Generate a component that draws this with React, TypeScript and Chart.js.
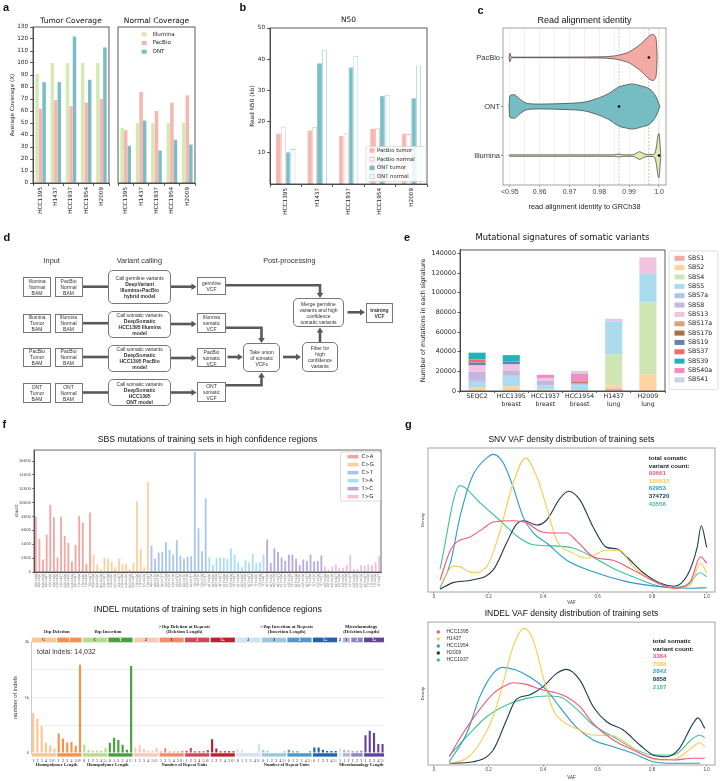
import React, { useEffect, useRef } from "react";
import { Chart, registerables } from "chart.js";

Chart.register(...registerables);

const SANS = "'DejaVu Sans', sans-serif";
const ARIAL = "'Liberation Sans', Arial, Helvetica, sans-serif";
const SERIF = "'Liberation Serif', 'DejaVu Serif', serif";

// ---------------- a: coverage ----------------
const samples = ["HCC1395", "H1437", "HCC1937", "HCC1954", "H2009"];
const tumorIllumina = [91, 100, 100, 100, 100];
const tumorPacBio = [62, 69, 64, 67, 70];
const tumorONT = [84, 84, 122, 86, 113];
const normalIllumina = [46, 50, 50, 50, 50];
const normalPacBio = [44, 76, 60, 67, 73];
const normalONT = [31, 52, 27, 36, 32];

// ---------------- b: N50 ----------------
const pacbioTumorN50 = [16.2, 17.2, 15.4, 17.6, 16.2];
const pacbioNormalN50 = [18.2, 18.3, 16.3, 17.9, 16.0];
const ontTumorN50 = [10.2, 38.7, 37.4, 28.3, 27.5];
const ontNormalN50 = [11.2, 42.9, 41.1, 28.6, 38.0];
const n50Ticks = [10, 20, 30, 40, 50];

// ---------------- c: read identity violins ----------------
const violinCats = ["Illumina", "ONT", "PacBio"];
const pacbioViolinX = [0.9497, 0.95, 0.9503, 0.9507, 0.96, 0.97, 0.98, 0.985, 0.988, 0.99, 0.992, 0.994, 0.995, 0.996, 0.997, 0.998, 0.9986, 0.9991, 0.9994];
const pacbioViolinW = [0, 0.09, 0.04, 0.006, 0.006, 0.008, 0.012, 0.03, 0.07, 0.11, 0.19, 0.28, 0.34, 0.4, 0.45, 0.47, 0.44, 0.34, 0];
const ontViolinX = [0.9497, 0.95, 0.9515, 0.953, 0.955, 0.957, 0.96, 0.965, 0.97, 0.975, 0.98, 0.983, 0.9866, 0.989, 0.991, 0.994, 0.997, 0.999, 0.9998, 1.0003];
const ontViolinW = [0, 0.22, 0.24, 0.17, 0.08, 0.055, 0.05, 0.055, 0.065, 0.09, 0.18, 0.26, 0.4, 0.44, 0.46, 0.42, 0.35, 0.2, 0.08, 0];
const illuminaViolinX = [0.9497, 0.95, 0.96, 0.97, 0.98, 0.985, 0.9866, 0.988, 0.991, 0.9925, 0.9935, 0.9945, 0.996, 0.998, 0.9988, 0.9993, 0.9997, 1.0, 1.0006];
const illuminaViolinW = [0, 0.015, 0.015, 0.015, 0.015, 0.015, 0.03, 0.015, 0.015, 0.05, 0.08, 0.05, 0.02, 0.02, 0.08, 0.25, 0.42, 0.45, 0];
const meanIdentity = [1.0, 0.9866, 0.9966]; // Illumina, ONT, PacBio
const identityTicks = [0.95, 0.955, 0.96, 0.965, 0.97, 0.975, 0.98, 0.985, 0.99, 0.995, 1.0];
const identityTickLabels = ["<0.95", "", "0.96", "", "0.97", "", "0.98", "", "0.99", "", "1.0"];

// ---------------- e: mutational signatures ----------------
const sigSamples = [["SEQC2"], ["HCC1395", "breast"], ["HCC1937", "breast"], ["HCC1954", "breast"], ["H1437", "lung"], ["H2009", "lung"]];
const signatureNames = ["SBS1", "SBS2", "SBS4", "SBS5", "SBS7a", "SBS8", "SBS13", "SBS17a", "SBS17b", "SBS19", "SBS37", "SBS39", "SBS40a", "SBS41"];
const sbs1 = [0, 0, 500, 0, 2500, 0];
const sbs2 = [4000, 5000, 1500, 1000, 3000, 17000];
const sbs4 = [0, 0, 0, 0, 32000, 73000];
const sbs5 = [4500, 9500, 4000, 5000, 33500, 29500];
const sbs7a = [2000, 1000, 0, 1000, 0, 0];
const sbs8 = [9000, 5500, 4500, 0, 0, 0];
const sbs13 = [6500, 6000, 2500, 0, 2500, 16500];
const sbs17a = [0, 0, 0, 1000, 0, 0];
const sbs17b = [0, 0, 0, 1000, 0, 0];
const sbs19 = [3000, 3000, 0, 0, 0, 0];
const sbs37 = [3000, 0, 0, 0, 0, 0];
const sbs39 = [7000, 6500, 0, 0, 0, 0];
const sbs40a = [0, 0, 3500, 8500, 0, 0];
const sbs41 = [0, 0, 0, 3000, 0, 0];
const signatureColors = ["#f5a9a6", "#fdd3a0", "#cfe6b3", "#aadcee", "#a9c5ea", "#c4b6e0", "#f2c3e0", "#d9a27c", "#a5713e", "#6c81aa", "#f26b6b", "#1fb3be", "#f18dbf", "#cdd4df"];
const sigTicks = [0, 20000, 40000, 60000, 80000, 100000, 120000, 140000];

// ---------------- f: SBS96 ----------------
const sbsTypes = ["C>A", "C>G", "C>T", "T>A", "T>C", "T>G"];
const bases = ["A", "C", "G", "T"];
const sbsLabels = sbsTypes.flatMap((t) => bases.flatMap((a) => bases.map((b) => `${a}[${t}]${b}`)));
const sbsCA = [8000, 4800, 1800, 5400, 9700, 7900, 2100, 8000, 5200, 4200, 1500, 3900, 8100, 7100, 1200, 8600];
const sbsCG = [2500, 1100, 400, 2100, 1900, 1400, 700, 2000, 1200, 1200, 400, 1300, 10200, 3300, 700, 13000];
const sbsCT = [3800, 1900, 2800, 2900, 4300, 3200, 2500, 4600, 2300, 1900, 2200, 2300, 17300, 6300, 3000, 10600];
const sbsTA = [2100, 1000, 2000, 2100, 2100, 1900, 3400, 2500, 1400, 700, 1700, 1400, 2600, 1300, 1400, 2500];
const sbsTC = [4700, 1300, 3400, 2900, 2100, 1600, 2500, 2500, 1900, 1000, 1800, 1600, 2500, 1500, 1600, 2400];
const sbsTG = [800, 350, 800, 1100, 600, 600, 1000, 2400, 450, 450, 1000, 900, 1100, 1000, 1400, 2300];
const sbsColors = ["#f5a3a3", "#fdcf9c", "#a8c5ec", "#a9dff0", "#b5aadb", "#f3bddb"];
const sbsTicks = [0, 2000, 4000, 6000, 8000, 10000, 12000, 14000, 16000];

// ---------------- f: ID83 ----------------
const indelDelC = [720, 620, 480, 185, 140, 80];
const indelDelT = [350, 260, 190, 200, 130, 1590];
const indelInsC = [150, 55, 40, 40, 40, 95];
const indelInsT = [185, 275, 235, 150, 60, 1570];
const indelDel2 = [100, 145, 70, 40, 40, 90];
const indelDel3 = [25, 85, 25, 25, 25, 40];
const indelDel4 = [40, 90, 30, 30, 30, 55];
const indelDel5 = [250, 80, 30, 30, 30, 30];
const indelIns2 = [70, 65, 10, 10, 10, 165];
const indelIns3 = [55, 40, 10, 10, 10, 30];
const indelIns4 = [60, 30, 30, 10, 10, 30];
const indelIns5 = [100, 100, 60, 35, 35, 35];
const indelMH = [90, 60, 50, 30, 30, 40, 320, 400, 360, 160, 160];
const lenLabels1 = ["1", "2", "3", "4", "5", "6+"];
const lenLabels0 = ["0", "1", "2", "3", "4", "5+"];
const mhLabels = ["1", "1", "2", "1", "2", "3", "1", "2", "3", "4", "5+"];
const indelGroups = [
  { label: "C", n: 6, color: "#fcc594", dark: false, values: indelDelC, ticks: lenLabels1 },
  { label: "T", n: 6, color: "#f8904a", dark: true, values: indelDelT, ticks: lenLabels1 },
  { label: "C", n: 6, color: "#b3dd8d", dark: false, values: indelInsC, ticks: lenLabels0 },
  { label: "T", n: 6, color: "#46a03c", dark: true, values: indelInsT, ticks: lenLabels0 },
  { label: "2", n: 6, color: "#fbc9b5", dark: false, values: indelDel2, ticks: lenLabels1 },
  { label: "3", n: 6, color: "#f58a6b", dark: false, values: indelDel3, ticks: lenLabels1 },
  { label: "4", n: 6, color: "#d2455a", dark: true, values: indelDel4, ticks: lenLabels1 },
  { label: "5+", n: 6, color: "#bf1f2b", dark: true, values: indelDel5, ticks: lenLabels1 },
  { label: "2", n: 6, color: "#d3e3f3", dark: false, values: indelIns2, ticks: lenLabels0 },
  { label: "3", n: 6, color: "#9bc7e1", dark: false, values: indelIns3, ticks: lenLabels0 },
  { label: "4", n: 6, color: "#4d99ca", dark: true, values: indelIns4, ticks: lenLabels0 },
  { label: "5+", n: 6, color: "#1e63ac", dark: true, values: indelIns5, ticks: lenLabels0 },
  { label: "2", n: 1, color: "#e1e1ef", dark: false, values: indelMH.slice(0, 1), ticks: mhLabels.slice(0, 1) },
  { label: "3", n: 2, color: "#b6b5d8", dark: false, values: indelMH.slice(1, 3), ticks: mhLabels.slice(1, 3) },
  { label: "4", n: 3, color: "#8a86bf", dark: true, values: indelMH.slice(3, 6), ticks: mhLabels.slice(3, 6) },
  { label: "5+", n: 5, color: "#6441a0", dark: true, values: indelMH.slice(6), ticks: mhLabels.slice(6) },
];
const indelSuper = [
  { top: ["1bp Deletion"], from: 0, n: 12, bottom: "Homopolymer Length" },
  { top: ["1bp Insertion"], from: 12, n: 12, bottom: "Homopolymer Length" },
  { top: [">1bp Deletion at Repeats", "(Deletion Length)"], from: 24, n: 24, bottom: "Number of Repeat Units" },
  { top: [">1bp Insertion at Repeats", "(Insertion Length)"], from: 48, n: 24, bottom: "Number of Repeat Units" },
  { top: ["Microhomology", "(Deletion Length)"], from: 72, n: 11, bottom: "Microhomology Length" },
];

// ---------------- g: VAF densities ----------------
const vafSamples = ["HCC1395", "H1437", "HCC1954", "H2009", "HCC1937"];
const vafColors = ["#f4567a", "#fdc94b", "#2a9bd3", "#1c3a4e", "#3cc392"];
const snvCounts = ["93661", "184515", "62953", "374720", "43558"];
const indelCounts = ["3384", "7088", "2842", "8858", "2187"];
const snvHCC1395 = [[0.022, 0.083], [0.06, 0.29], [0.085, 0.35], [0.13, 0.38], [0.18, 0.44], [0.217, 0.486], [0.29, 0.495], [0.34, 0.48], [0.39, 0.42], [0.425, 0.41], [0.487, 0.41], [0.52, 0.36], [0.584, 0.245], [0.656, 0.22], [0.73, 0.153], [0.81, 0.072], [0.88, 0.026], [0.94, 0.072], [0.977, 0.245], [1.0, 0.2]];
const snvH1437 = [[0.022, 0.037], [0.07, 0.18], [0.095, 0.176], [0.14, 0.134], [0.193, 0.176], [0.24, 0.41], [0.29, 0.755], [0.336, 0.93], [0.377, 0.8], [0.413, 0.59], [0.45, 0.36], [0.51, 0.27], [0.56, 0.234], [0.63, 0.29], [0.68, 0.29], [0.73, 0.176], [0.81, 0.072], [0.88, 0.026], [0.94, 0.05], [0.977, 0.2], [1.0, 0.134]];
const snvHCC1954 = [[0.022, 0.026], [0.06, 0.2], [0.095, 0.52], [0.14, 0.8], [0.193, 0.93], [0.217, 0.956], [0.253, 0.9], [0.29, 0.73], [0.327, 0.52], [0.364, 0.41], [0.413, 0.34], [0.487, 0.22], [0.584, 0.14], [0.706, 0.072], [0.83, 0.037], [0.95, 0.026], [1.0, 0.03]];
const snvH2009 = [[0.022, 0.019], [0.07, 0.065], [0.14, 0.083], [0.217, 0.153], [0.266, 0.34], [0.3, 0.465], [0.33, 0.495], [0.377, 0.465], [0.413, 0.5], [0.462, 0.65], [0.493, 0.7], [0.535, 0.64], [0.584, 0.45], [0.633, 0.31], [0.67, 0.3], [0.706, 0.245], [0.77, 0.13], [0.83, 0.06], [0.88, 0.04], [0.93, 0.12], [0.965, 0.31], [0.98, 0.46], [1.0, 0.31]];
const snvHCC1937 = [[0.022, 0.16], [0.095, 0.74], [0.168, 0.62], [0.24, 0.5], [0.31, 0.38], [0.36, 0.33], [0.437, 0.32], [0.51, 0.305], [0.58, 0.245], [0.656, 0.165], [0.73, 0.106], [0.81, 0.049], [0.86, 0.03], [0.93, 0.05], [0.975, 0.134], [1.0, 0.106]];
const indelHCC1395 = [[0.056, 0.058], [0.095, 0.187], [0.156, 0.36], [0.217, 0.5], [0.266, 0.56], [0.29, 0.576], [0.34, 0.564], [0.39, 0.53], [0.437, 0.51], [0.486, 0.478], [0.535, 0.408], [0.584, 0.29], [0.657, 0.175], [0.73, 0.105], [0.803, 0.047], [0.877, 0.035], [0.95, 0.047], [0.993, 0.047]];
const indelH1437 = [[0.056, 0.012], [0.12, 0.047], [0.168, 0.152], [0.217, 0.338], [0.253, 0.571], [0.29, 0.828], [0.33, 0.956], [0.364, 0.874], [0.4, 0.618], [0.437, 0.385], [0.473, 0.303], [0.52, 0.257], [0.584, 0.21], [0.657, 0.205], [0.706, 0.152], [0.767, 0.07], [0.828, 0.035], [0.89, 0.047], [0.95, 0.128], [0.975, 0.156], [0.993, 0.128]];
const indelHCC1954 = [[0.056, 0.023], [0.12, 0.222], [0.168, 0.478], [0.217, 0.641], [0.253, 0.683], [0.3, 0.665], [0.35, 0.618], [0.413, 0.524], [0.46, 0.408], [0.52, 0.268], [0.584, 0.175], [0.657, 0.128], [0.73, 0.082], [0.803, 0.023], [0.89, 0.012], [0.975, 0.012]];
const indelH2009 = [[0.056, 0.012], [0.144, 0.023], [0.217, 0.105], [0.266, 0.315], [0.3, 0.455], [0.35, 0.49], [0.4, 0.548], [0.45, 0.641], [0.486, 0.669], [0.535, 0.594], [0.584, 0.408], [0.633, 0.303], [0.694, 0.245], [0.755, 0.14], [0.803, 0.07], [0.852, 0.058], [0.9, 0.117], [0.95, 0.291], [0.968, 0.33], [0.993, 0.256]];
const indelHCC1937 = [[0.056, 0.065], [0.12, 0.198], [0.193, 0.338], [0.266, 0.42], [0.34, 0.466], [0.413, 0.483], [0.46, 0.478], [0.52, 0.396], [0.584, 0.28], [0.657, 0.198], [0.73, 0.117], [0.803, 0.07], [0.877, 0.07], [0.95, 0.187], [0.975, 0.21], [0.993, 0.19]];
const vafTicks = [0, 0.2, 0.4, 0.6, 0.8, 1.0];

// ---------------- colours ----------------
const ILL = "#d6e9b4";
const PBC = "#f6b5ae";
const ONTC = "#79bec6";

// ---------------- helpers ----------------
const pts = (list: number[][]) => list.map(([x, y]) => ({ x, y }));

function ttl(text: string, size: number, pt: number, pb: number, family = SANS) {
  return { display: true, text, color: "#111", font: { family, size, weight: "normal" }, padding: { top: pt, bottom: pb }, fullSize: false };
}

function mkOpts(pad: any, title: any, scales: any, extra: any = {}) {
  return {
    responsive: true,
    maintainAspectRatio: false,
    animation: false,
    events: [],
    layout: { padding: pad, autoPadding: false },
    plugins: { legend: { display: false }, tooltip: { enabled: false }, title },
    scales,
    ...extra,
  };
}

const tickGrid = { display: true, drawOnChartArea: false, drawTicks: true, tickLength: 3, color: "#333", lineWidth: 0.8 };
const axBorder = { display: true, color: "#333", width: 0.8 };

function framePlugin(color: string, width = 0.8) {
  return {
    id: "frame",
    afterDraw(chart: any) {
      const { ctx, chartArea: a } = chart;
      ctx.save();
      ctx.strokeStyle = color;
      ctx.lineWidth = width;
      ctx.strokeRect(a.left, a.top, a.right - a.left, a.bottom - a.top);
      ctx.restore();
    },
  };
}

function legendPlugin(ox: number, oy: number, spec: any) {
  return {
    id: "boxLegend",
    afterDraw(chart: any) {
      const ctx = chart.ctx;
      ctx.save();
      if (spec.frame) {
        const [x, y, w, h] = spec.frame;
        ctx.fillStyle = "rgba(255,255,255,0.85)";
        ctx.strokeStyle = spec.frameColor || "#d2d2d2";
        ctx.lineWidth = 0.7;
        ctx.beginPath();
        if (ctx.roundRect) ctx.roundRect(x - ox, y - oy, w, h, 1.5);
        else ctx.rect(x - ox, y - oy, w, h);
        ctx.fill();
        ctx.stroke();
      }
      ctx.font = `${spec.size}px ${spec.family}`;
      ctx.textBaseline = "middle";
      ctx.textAlign = "left";
      spec.items.forEach((it: any, i: number) => {
        const y = spec.y0 + i * spec.dy - oy;
        if (it.circle) {
          ctx.beginPath();
          ctx.arc(spec.sx - ox, y, spec.sh / 2, 0, Math.PI * 2);
          ctx.fillStyle = it.fill;
          ctx.fill();
        } else {
          ctx.fillStyle = it.fill;
          ctx.fillRect(spec.sx - ox, y - spec.sh / 2, spec.sw, spec.sh);
          if (it.stroke) {
            ctx.strokeStyle = it.stroke;
            ctx.lineWidth = 0.8;
            ctx.strokeRect(spec.sx - ox + 0.4, y - spec.sh / 2 + 0.4, spec.sw - 0.8, spec.sh - 0.8);
          }
        }
        ctx.fillStyle = spec.color || "#222";
        ctx.fillText(it.label, spec.tx - ox, y);
      });
      ctx.restore();
    },
  };
}

function ChartBox({ x, y, w, h, make }: { x: number; y: number; w: number; h: number; make: () => any }) {
  const ref = useRef<HTMLCanvasElement>(null);
  useEffect(() => {
    const c = new Chart(ref.current as HTMLCanvasElement, make());
    return () => c.destroy();
  }, []);
  return (
    <div style={{ position: "absolute", left: x, top: y, width: w, height: h }}>
      <canvas ref={ref} />
    </div>
  );
}

function Label({ x, y, size, children, bold, color = "#111", align = "left", family = ARIAL }: any) {
  const tx = align === "center" ? "translateX(-50%)" : align === "right" ? "translateX(-100%)" : "none";
  return (
    <div style={{ position: "absolute", left: x, top: y - size * 0.6, fontSize: size, lineHeight: `${size * 1.2}px`, fontWeight: bold ? 700 : 400, color, fontFamily: family, whiteSpace: "nowrap", transform: tx }}>
      {children}
    </div>
  );
}

// ---------------- chart configs ----------------
function coverageConfig(kind: "tumor" | "normal") {
  const tumor = kind === "tumor";
  const ox = tumor ? 0 : 112;
  const oy = 10;
  const tickFont = { family: SANS, size: 5.7 };
  const ds = (label: string, data: number[], color: string) => ({ label, data, backgroundColor: color, categoryPercentage: 0.69, barPercentage: 1 });
  const plugins: any[] = [framePlugin("#333")];
  if (!tumor)
    plugins.push(
      legendPlugin(ox, oy, {
        items: [{ label: "Illumina", fill: ILL }, { label: "PacBio", fill: PBC }, { label: "ONT", fill: ONTC }],
        sx: 141.7, sw: 5, sh: 4, tx: 152.5, y0: 34.3, dy: 8.7, size: 5.6, family: SANS,
      })
    );
  const yScale: any = tumor
    ? {
        min: 0, max: 130,
        ticks: { stepSize: 10, font: tickFont, color: "#222", padding: 2 },
        grid: tickGrid, border: axBorder,
        title: { display: true, text: "Average Coverage (X)", font: { family: SANS, size: 5.7 }, color: "#222", padding: { top: 9.3, bottom: 0 } },
        afterFit: (s: any) => { s.width = 33; },
      }
    : { display: false, min: 0, max: 130 };
  return {
    type: "bar",
    data: {
      labels: samples,
      datasets: tumor
        ? [ds("Illumina", tumorIllumina, ILL), ds("PacBio", tumorPacBio, PBC), ds("ONT", tumorONT, ONTC)]
        : [ds("Illumina", normalIllumina, ILL), ds("PacBio", normalPacBio, PBC), ds("ONT", normalONT, ONTC)],
    },
    options: mkOpts(
      tumor ? { left: 0, right: 3, top: 0, bottom: 0 } : { left: 6, right: 5, top: 0, bottom: 0 },
      ttl(tumor ? "Tumor Coverage" : "Normal Coverage", 7.5, 6.5, 1.5),
      {
        x: {
          grid: tickGrid, border: axBorder,
          ticks: { font: tickFont, color: "#222", minRotation: 90, maxRotation: 90, padding: 1, autoSkip: false },
          afterFit: (s: any) => { s.height = 52; },
        },
        y: yScale,
      }
    ),
    plugins,
  };
}

function n50Config() {
  const ox = 240, oy = 10;
  const tickFont = { family: SANS, size: 5.7 };
  const ds = (label: string, data: number[], fill: string, border: string) => ({ label, data, backgroundColor: fill, borderColor: border, borderWidth: 0.9, categoryPercentage: 0.62, barPercentage: 1 });
  return {
    type: "bar",
    data: {
      labels: samples,
      datasets: [
        ds("PacBio tumor", pacbioTumorN50, PBC, PBC),
        ds("PacBio normal", pacbioNormalN50, "#ffffff", PBC),
        ds("ONT tumor", ontTumorN50, ONTC, ONTC),
        ds("ONT normal", ontNormalN50, "#ffffff", "#9fd5dc"),
      ],
    },
    options: mkOpts({ left: 0, right: 3, top: 0, bottom: 0 }, ttl("N50", 7.5, 5.5, 3.5), {
      x: {
        grid: tickGrid, border: axBorder,
        ticks: { font: tickFont, color: "#222", minRotation: 90, maxRotation: 90, padding: 1, autoSkip: false },
        afterFit: (s: any) => { s.height = 51; },
      },
      y: {
        min: 0, max: 50,
        afterBuildTicks: (s: any) => { s.ticks = n50Ticks.map((v) => ({ value: v })); },
        ticks: { font: tickFont, color: "#222", padding: 2 },
        grid: tickGrid, border: axBorder,
        title: { display: true, text: "Read N50 (kb)", font: { family: SANS, size: 5.8 }, color: "#222", padding: { top: 9.5, bottom: 0 } },
        afterFit: (s: any) => { s.width = 30; },
      },
    }),
    plugins: [
      framePlugin("#333"),
      legendPlugin(ox, oy, {
        frame: [366, 146.5, 60, 35],
        items: [
          { label: "PacBio tumor", fill: PBC },
          { label: "PacBio normal", fill: "#fff", stroke: PBC },
          { label: "ONT tumor", fill: ONTC },
          { label: "ONT normal", fill: "#fff", stroke: "#9fd5dc" },
        ],
        sx: 369.5, sw: 5, sh: 4.5, tx: 377, y0: 150.5, dy: 8.7, size: 5.3, family: SANS,
      }),
    ],
  };
}

function violinDatasets(center: number, xs: number[], ws: number[], color: string) {
  const common = { borderColor: "#3a3a3a", borderWidth: 0.7, pointRadius: 0, cubicInterpolationMode: "monotone", backgroundColor: color };
  return [
    { ...common, data: xs.map((x, i) => ({ x, y: center + ws[i] })), fill: false },
    { ...common, data: xs.map((x, i) => ({ x, y: center - ws[i] })), fill: "-1" },
  ];
}

function identityConfig() {
  const vline = (x: number, color: string) => ({ data: [{ x, y: -0.6 }, { x, y: 2.6 }], borderColor: color, borderWidth: 0.9, borderDash: [2, 1.5], pointRadius: 0, fill: false });
  return {
    type: "line",
    data: {
      datasets: [
        { data: meanIdentity.map((x, i) => ({ x, y: i })), showLine: false, pointRadius: 1.3, pointBackgroundColor: "#000", pointBorderWidth: 0 },
        ...violinDatasets(2, pacbioViolinX, pacbioViolinW, "#f4aaa4"),
        ...violinDatasets(1, ontViolinX, ontViolinW, "#76bcc3"),
        ...violinDatasets(0, illuminaViolinX, illuminaViolinW, "#dcebb0"),
        vline(meanIdentity[1], "#95d4df"),
        vline(meanIdentity[2], "#f3a096"),
        vline(meanIdentity[0], "#d4e8a6"),
      ],
    },
    options: mkOpts({ left: 0, right: 54, top: 0, bottom: 0 }, ttl("Read alignment identity", 9, 5.3, 1.9, ARIAL), {
      x: {
        type: "linear", min: 0.9477, max: 1.00235,
        afterBuildTicks: (s: any) => { s.ticks = identityTicks.map((v) => ({ value: v })); },
        ticks: { callback: (_v: any, i: number) => identityTickLabels[i], font: { family: ARIAL, size: 7 }, color: "#444", padding: 1, autoSkip: false, maxRotation: 0 },
        grid: { color: "#ececec", lineWidth: 0.7, drawTicks: true, tickLength: 2, tickColor: (c: any) => (identityTickLabels[c.index] ? "#888" : "rgba(0,0,0,0)") },
        border: { display: false },
        title: { display: true, text: "read alignment identity to GRCh38", font: { family: ARIAL, size: 7.3 }, color: "#222", padding: { top: 0, bottom: 8.6 } },
        afterFit: (s: any) => { s.height = 35; },
      },
      y: {
        type: "linear", min: -0.6, max: 2.6,
        afterBuildTicks: (s: any) => { s.ticks = [0, 1, 2].map((v) => ({ value: v })); },
        ticks: { callback: (v: any) => violinCats[v], font: { family: ARIAL, size: 7.5 }, color: "#333", padding: 1 },
        grid: { display: true, drawOnChartArea: false, drawTicks: true, tickLength: 2, color: "#888" },
        border: { display: false },
        afterFit: (s: any) => { s.width = 48; },
      },
    }),
    plugins: [framePlugin("#8a8a8a", 0.8)],
  };
}

function signatureConfig() {
  const ox = 418, oy = 222;
  const sigData = [sbs1, sbs2, sbs4, sbs5, sbs7a, sbs8, sbs13, sbs17a, sbs17b, sbs19, sbs37, sbs39, sbs40a, sbs41];
  return {
    type: "bar",
    data: {
      labels: sigSamples,
      datasets: signatureNames.map((n, i) => ({ label: n, data: sigData[i], backgroundColor: signatureColors[i], barPercentage: 0.5, categoryPercentage: 1 })),
    },
    options: mkOpts({ left: 0, right: 55, top: 0, bottom: 0 }, ttl("Mutational signatures of somatic variants", 8.4, 10.3, 7.6), {
      x: {
        stacked: true, grid: { ...tickGrid, tickLength: 2 }, border: axBorder,
        ticks: { font: { family: SANS, size: 6.2 }, color: "#222", padding: 0, maxRotation: 0, autoSkip: false },
        afterFit: (s: any) => { s.height = 21; },
      },
      y: {
        stacked: true, min: 0, max: 143500,
        afterBuildTicks: (s: any) => { s.ticks = sigTicks.map((v) => ({ value: v })); },
        ticks: { callback: (v: any) => String(v), font: { family: SANS, size: 6.4 }, color: "#222", padding: 1.5 },
        grid: { ...tickGrid, tickLength: 2.5 }, border: axBorder,
        title: { display: true, text: "Number of mutations in each signature", font: { family: SANS, size: 6.3 }, color: "#222", padding: { top: 1.7, bottom: 0 } },
        afterFit: (s: any) => { s.width = 42; },
      },
    }),
    plugins: [
      framePlugin("#333"),
      legendPlugin(ox, oy, {
        frame: [669, 251, 49, 138.5], frameColor: "#cfcfcf",
        items: signatureNames.map((n, i) => ({ label: n, fill: signatureColors[i] })),
        sx: 674.5, sw: 10, sh: 5, tx: 688, y0: 258.3, dy: 9.35, size: 6.3, family: SANS,
      }),
    ],
  };
}

function sbsConfig() {
  const ox = 0, oy = 428;
  const values = [...sbsCA, ...sbsCG, ...sbsCT, ...sbsTA, ...sbsTC, ...sbsTG];
  const colors = sbsLabels.map((_l, i) => sbsColors[Math.floor(i / 16)]);
  return {
    type: "bar",
    data: { labels: sbsLabels, datasets: [{ data: values, backgroundColor: colors, barPercentage: 0.5, categoryPercentage: 1 }] },
    options: mkOpts({ left: 0, right: 9, top: 0, bottom: 0 }, ttl("SBS mutations of training sets in high confidence regions", 8.7, 6.8, 4.8, ARIAL), {
      x: {
        grid: { ...tickGrid, tickLength: 1.5, lineWidth: 0.5, color: "#666" }, border: axBorder,
        ticks: { font: { family: SANS, size: 3 }, color: "#555", minRotation: 90, maxRotation: 90, padding: 0.5, autoSkip: false },
        afterFit: (s: any) => { s.height = 21; },
      },
      y: {
        min: 0, max: 17600,
        afterBuildTicks: (s: any) => { s.ticks = sbsTicks.map((v) => ({ value: v })); },
        ticks: { callback: (v: any) => String(v), font: { family: SANS, size: 3.8 }, color: "#444", padding: 1 },
        grid: { ...tickGrid, tickLength: 2, lineWidth: 0.6 }, border: axBorder,
        title: { display: true, text: "count", font: { family: SANS, size: 4.5 }, color: "#333", padding: { top: 14.6, bottom: 0 } },
        afterFit: (s: any) => { s.width = 34; },
      },
    }),
    plugins: [
      framePlugin("#444", 0.8),
      legendPlugin(ox, oy, {
        frame: [340.5, 452, 40, 49], frameColor: "#cccccc",
        items: sbsTypes.map((t, i) => ({ label: t, fill: sbsColors[i] })),
        sx: 347.5, sw: 11, sh: 3.5, tx: 361.5, y0: 456.7, dy: 8, size: 5.3, family: SANS,
      }),
    ],
  };
}

function indelConfig() {
  const oy = 600;
  const labels = indelGroups.flatMap((g) => g.ticks);
  const values = indelGroups.flatMap((g) => g.values);
  const colors = indelGroups.flatMap((g) => g.values.map(() => g.color));
  const strips = {
    id: "indelStrips",
    afterDraw(chart: any) {
      const ctx = chart.ctx;
      const xs = chart.scales.x;
      const half = (xs.getPixelForValue(1) - xs.getPixelForValue(0)) / 2;
      ctx.save();
      ctx.textAlign = "center";
      ctx.textBaseline = "middle";
      let idx = 0;
      indelGroups.forEach((g) => {
        const x0 = xs.getPixelForValue(idx) - half + 0.7;
        const x1 = xs.getPixelForValue(idx + g.n - 1) + half - 0.7;
        ctx.fillStyle = g.color;
        ctx.fillRect(x0, 637.6 - oy, x1 - x0, 4.6);
        ctx.fillRect(x0, 753.3 - oy, x1 - x0, 3.3);
        ctx.fillStyle = g.dark ? "#fff" : "#222";
        ctx.font = `bold 4px ${SERIF}`;
        ctx.fillText(g.label, (x0 + x1) / 2, 640 - oy);
        idx += g.n;
      });
      ctx.fillStyle = "#222";
      indelSuper.forEach((s) => {
        const x0 = xs.getPixelForValue(s.from) - half;
        const x1 = xs.getPixelForValue(s.from + s.n - 1) + half;
        const cx = (x0 + x1) / 2;
        ctx.font = `bold 4.8px ${SERIF}`;
        if (s.top.length === 1) ctx.fillText(s.top[0], cx, 631.7 - oy);
        else {
          ctx.fillText(s.top[0], cx, 627.2 - oy);
          ctx.fillText(s.top[1], cx, 632.2 - oy);
        }
        ctx.font = `bold 4.4px ${SERIF}`;
        ctx.fillText(s.bottom, cx, 765.3 - oy);
      });
      ctx.restore();
    },
  };
  return {
    type: "bar",
    data: { labels, datasets: [{ data: values, backgroundColor: colors, barPercentage: 0.5, categoryPercentage: 1 }] },
    options: mkOpts({ left: 0, right: 4, top: 0, bottom: 0 }, ttl("INDEL mutations of training sets in high confidence regions", 8.7, 4.8, 26.8, ARIAL), {
      x: {
        grid: { display: false, drawTicks: false }, border: { display: false },
        ticks: { font: { family: SERIF, size: 4 }, color: "#222", padding: 5.3, maxRotation: 0, minRotation: 0, autoSkip: false },
        afterFit: (s: any) => { s.height = 28; },
      },
      y: {
        min: 0, max: 2000,
        ticks: { stepSize: 500, callback: (v: any) => (v % 1000 === 0 ? (v === 0 ? "0" : `${v / 1000}k`) : ""), font: { family: SERIF, size: 4.3 }, color: "#333", padding: 2 },
        grid: { color: "#e9e9e9", lineWidth: 0.8, drawTicks: false },
        border: { display: true, color: "#bdbdbd", width: 0.8 },
        title: { display: true, text: "number of indels", font: { family: ARIAL, size: 5.8 }, color: "#333", padding: { top: 12.2, bottom: 0 } },
        afterFit: (s: any) => { s.width = 31; },
      },
    }),
    plugins: [strips],
  };
}

function vafConfig(kind: "snv" | "indel") {
  const snv = kind === "snv";
  const ox = 405, oy = snv ? 428 : 603;
  const series = snv ? [snvHCC1395, snvH1437, snvHCC1954, snvH2009, snvHCC1937] : [indelHCC1395, indelH1437, indelHCC1954, indelH2009, indelHCC1937];
  const plugins: any[] = [framePlugin("#9a9a9a", 0.9)];
  if (!snv)
    plugins.push(
      legendPlugin(ox, oy, {
        items: vafSamples.map((s, i) => ({ label: s, fill: vafColors[i], circle: true })),
        sx: 438.3, sw: 0, sh: 3.4, tx: 446.5, y0: 632, dy: 7, size: 5, family: ARIAL, color: "#333",
      })
    );
  return {
    type: "line",
    data: {
      datasets: series.map((d, i) => ({ label: vafSamples[i], data: pts(d), borderColor: vafColors[i], borderWidth: 1.1, pointRadius: 0, fill: false, cubicInterpolationMode: "monotone" })),
    },
    options: mkOpts(
      { left: 0, right: 5, top: 0, bottom: 0 },
      ttl(snv ? "SNV VAF density distribution of training sets" : "INDEL VAF density distribution of training sets", 8.5, snv ? 6.9 : 5.9, snv ? 2.9 : 3.0, ARIAL),
      {
        x: {
          type: "linear", min: -0.022, max: 1.0304,
          afterBuildTicks: (s: any) => { s.ticks = vafTicks.map((v) => ({ value: v })); },
          ticks: { callback: (v: any) => (v === 0 ? "0" : Number(v).toFixed(1)), font: { family: ARIAL, size: 4.5 }, color: "#444", padding: 0.5, maxRotation: 0 },
          grid: { display: true, drawOnChartArea: false, drawTicks: true, tickLength: 1.5, color: "#999" },
          border: { display: false },
          title: { display: true, text: "VAF", font: { family: ARIAL, size: 4.5 }, color: "#333", padding: { top: 0, bottom: snv ? 3.3 : 0.6 } },
          afterFit: (s: any) => { s.height = snv ? 17 : 16; },
        },
        y: {
          type: "linear", min: 0, max: 1,
          ticks: { display: false },
          grid: { display: false, drawTicks: false },
          border: { display: false },
          title: { display: true, text: "Density", font: { family: ARIAL, size: 4 }, color: "#333", padding: { top: 15.6, bottom: 0 } },
          afterFit: (s: any) => { s.width = 23; },
        },
      }
    ),
    plugins,
  };
}

// ---------------- flowchart (panel d) ----------------
const flowBoxes: { x: number; y: number; w: number; h: number; r?: number; fs?: number; lines: string[] }[] = [
  { x: 23, y: 277, w: 28, h: 19.5, lines: ["Illumina", "Normal", "BAM"] },
  { x: 54.5, y: 277, w: 28, h: 19.5, lines: ["PacBio", "Normal", "BAM"] },
  { x: 23, y: 313.5, w: 28, h: 19.5, lines: ["Illumina", "Tumor", "BAM"] },
  { x: 54.5, y: 313.5, w: 28, h: 19.5, lines: ["Illumina", "Normal", "BAM"] },
  { x: 23, y: 347.5, w: 28, h: 19, lines: ["PacBio", "Tumor", "BAM"] },
  { x: 54.5, y: 347.5, w: 28, h: 19, lines: ["PacBio", "Normal", "BAM"] },
  { x: 23, y: 382.5, w: 28, h: 20, lines: ["ONT", "Tumor", "BAM"] },
  { x: 54.5, y: 382.5, w: 28, h: 20, lines: ["ONT", "Normal", "BAM"] },
  { x: 108.3, y: 270, w: 62.7, h: 34, r: 5, lines: ["Call germline variants", "*DeepVariant", "*Illumina+PacBio", "*hybrid model"] },
  { x: 108.3, y: 311, w: 62.7, h: 26.7, r: 5, lines: ["Call somatic variants", "*DeepSomatic", "*HCC1395 Illumina", "*model"] },
  { x: 108.3, y: 345, w: 62.7, h: 26.7, r: 5, lines: ["Call somatic variants", "*DeepSomatic", "*HCC1395 PacBio", "*model"] },
  { x: 108.3, y: 379.3, w: 62.7, h: 26.7, r: 5, lines: ["Call somatic variants", "*DeepSomatic", "*HCC1395", "*ONT model"] },
  { x: 197.3, y: 277.3, w: 28.4, h: 17.4, lines: ["germline", "VCF"] },
  { x: 197.3, y: 313.3, w: 28.4, h: 20, lines: ["Illumina", "somatic", "VCF"] },
  { x: 197.3, y: 348.3, w: 28.4, h: 18.4, lines: ["PacBio", "somatic", "VCF"] },
  { x: 197.3, y: 382.3, w: 28.4, h: 20, lines: ["ONT", "somatic", "VCF"] },
  { x: 243.3, y: 343.3, w: 36.7, h: 29, r: 5, lines: ["Take union", "of somatic", "VCFs"] },
  { x: 301.7, y: 342.3, w: 36.7, h: 29.4, r: 5, lines: ["Filter for", "high", "confidence", "variants"] },
  { x: 292.7, y: 298.3, w: 51.6, h: 29, r: 5, lines: ["Merge germline", "variants and high", "confidence", "somatic variants"] },
  { x: 365.7, y: 302.7, w: 27.6, h: 20, lines: ["*training", "*VCF"] },
];
const flowLines: number[][][] = [
  [[82.5, 286.7], [108.3, 286.7]],
  [[82.5, 323.2], [108.3, 323.2]],
  [[82.5, 357], [108.3, 357]],
  [[82.5, 392.5], [108.3, 392.5]],
];
const flowArrows: number[][][] = [
  [[171, 286.7], [196.5, 286.7]],
  [[171, 324], [196.5, 324]],
  [[171, 358], [196.5, 358]],
  [[171, 392.5], [196.5, 392.5]],
  [[225.7, 285.3], [320, 285.3], [320, 298]],
  [[225.7, 327.8], [261.5, 327.8], [261.5, 343]],
  [[227.5, 357], [242.8, 357]],
  [[225.7, 385.2], [261.5, 385.2], [261.5, 372.5]],
  [[283, 357], [301, 357]],
  [[320, 342.3], [320, 327.6]],
  [[347.5, 312.3], [365, 312.3]],
];

function Arrow({ p }: { p: number[][] }) {
  const [x1, y1] = p[p.length - 2];
  const [x2, y2] = p[p.length - 1];
  const L = Math.hypot(x2 - x1, y2 - y1);
  const ux = (x2 - x1) / L, uy = (y2 - y1) / L;
  const hl = 5, hw = 3.3;
  const bx = x2 - ux * hl, by = y2 - uy * hl;
  const line = [...p.slice(0, -1), [bx + ux * 0.6, by + uy * 0.6]];
  return (
    <g>
      <polyline points={line.map((q) => q.join(",")).join(" ")} fill="none" stroke="#595959" strokeWidth={2.6} />
      <polygon points={`${x2},${y2} ${bx - uy * hw},${by + ux * hw} ${bx + uy * hw},${by - ux * hw}`} fill="#595959" />
    </g>
  );
}

function Flowchart() {
  return (
    <>
      <svg style={{ position: "absolute", left: 0, top: 0 }} width={420} height={420}>
        {flowLines.map((p, i) => (
          <polyline key={i} points={p.map((q) => q.join(",")).join(" ")} fill="none" stroke="#595959" strokeWidth={2.6} />
        ))}
        {flowArrows.map((p, i) => (
          <Arrow key={i} p={p} />
        ))}
      </svg>
      {flowBoxes.map((b, i) => {
        const fs = b.fs || 5;
        return (
          <div key={i} style={{ position: "absolute", left: b.x, top: b.y, width: b.w, height: b.h, boxSizing: "border-box", border: "0.8px solid #777", borderRadius: b.r || 0, display: "flex", flexDirection: "column", justifyContent: "center", alignItems: "center", fontFamily: ARIAL, fontSize: fs, lineHeight: `${fs * 1.2}px`, color: "#333", textAlign: "center", background: "#fff" }}>
            {b.lines.map((l, j) => (
              <div key={j} style={{ fontWeight: l.startsWith("*") ? 700 : 400, whiteSpace: "nowrap" }}>
                {l.replace(/^\*/, "")}
              </div>
            ))}
          </div>
        );
      })}
      <Label x={51.7} y={261.7} size={7.3} align="center" color="#333">Input</Label>
      <Label x={139.3} y={261.7} size={7.3} align="center" color="#333">Variant calling</Label>
      <Label x={289.3} y={261.7} size={7.3} align="center" color="#333">Post-processing</Label>
    </>
  );
}

function Annotation({ x, y0, counts }: { x: number; y0: number; counts: string[] }) {
  return (
    <>
      <Label x={x} y={y0} size={6.2} bold color="#222">total somatic</Label>
      <Label x={x} y={y0 + 7.3} size={6.2} bold color="#222">variant count:</Label>
      {counts.map((c, i) => (
        <Label key={i} x={x} y={y0 + 14.8 + i * 7.7} size={6.2} bold color={vafColors[i]}>
          {c}
        </Label>
      ))}
    </>
  );
}

export default function App() {
  return (
    <div style={{ position: "absolute", left: 0, top: 0, width: 720, height: 781, background: "#fff", overflow: "hidden", fontFamily: ARIAL }}>
      <ChartBox x={0} y={10} w={112} h={225} make={() => coverageConfig("tumor")} />
      <ChartBox x={112} y={10} w={88} h={225} make={() => coverageConfig("normal")} />
      <ChartBox x={240} y={10} w={190} h={225} make={n50Config} />
      <ChartBox x={455} y={10} w={265} h={210} make={identityConfig} />
      <ChartBox x={418} y={222} w={302} h={190} make={signatureConfig} />
      <ChartBox x={0} y={428} w={390} h={165} make={sbsConfig} />
      <ChartBox x={0} y={600} w={390} h={181} make={indelConfig} />
      <ChartBox x={405} y={428} w={315} h={181} make={() => vafConfig("snv")} />
      <ChartBox x={405} y={603} w={315} h={178} make={() => vafConfig("indel")} />
      <Flowchart />
      <Label x={37} y={652} size={7} color="#333">total indels: 14,032</Label>
      <Annotation x={648.7} y0={458} counts={snvCounts} />
      <Annotation x={652.7} y0={641} counts={indelCounts} />
      <Label x={3} y={7.3} size={11} bold>a</Label>
      <Label x={239.5} y={7.3} size={11} bold>b</Label>
      <Label x={477.5} y={10.7} size={11} bold>c</Label>
      <Label x={3.5} y={237.3} size={11} bold>d</Label>
      <Label x={404} y={237.3} size={11} bold>e</Label>
      <Label x={2.5} y={425} size={11} bold>f</Label>
      <Label x={405} y={425} size={11} bold>g</Label>
    </div>
  );
}
